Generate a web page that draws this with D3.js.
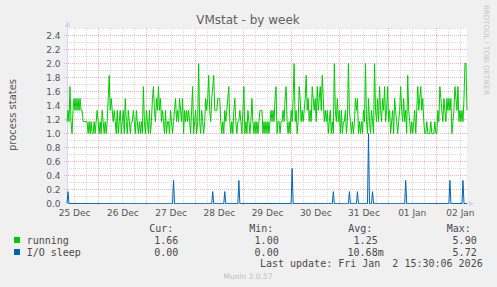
<!DOCTYPE html>
<html>
<head>
<meta charset="utf-8">
<script src="https://cdn.jsdelivr.net/npm/d3@7"></script>
<style>
  body { margin: 0; background: #f0f0f0; }
  svg { display: block; font-family: "DejaVu Sans", sans-serif; }
  .mono { font-family: "DejaVu Sans Mono", monospace; }
</style>
</head>
<body>
<svg id="chart" width="497" height="287"></svg>
<script>
// samples every 30 minutes, first one at 25 Dec 08:30 (UTC)
var startTime = "2025-12-25T08:30:00Z";
var stepMinutes = 30;

// running processes
var running = [
  1.17,1.33,1.17,1.67,1.17,1.0,1.33,1.5,1.33,1.5,
  1.33,1.5,1.33,1.5,1.33,1.33,1.17,1.17,1.17,1.17,
  1.17,1.0,1.17,1.0,1.17,1.0,1.0,1.17,1.0,1.17,
  1.33,1.17,1.0,1.17,1.0,1.33,1.17,1.0,1.17,1.0,
  1.17,1.5,1.83,1.33,1.5,1.33,1.17,1.33,1.17,1.0,
  1.33,1.0,1.17,1.33,1.0,1.17,1.33,1.0,1.5,1.17,
  1.0,1.33,1.17,1.0,1.17,1.17,1.33,1.17,1.0,1.33,
  1.17,1.0,1.17,1.0,1.17,1.0,1.67,1.17,1.0,1.33,
  1.17,1.0,1.33,1.0,1.17,1.5,1.67,1.33,1.17,1.5,
  1.33,1.67,1.33,1.5,1.17,1.33,1.17,1.0,1.33,1.0,
  1.17,1.17,1.0,1.33,1.17,1.0,1.17,1.33,1.5,1.17,
  1.33,1.17,1.5,1.33,1.17,1.5,1.0,1.33,1.17,1.33,
  1.17,1.33,1.17,1.0,1.33,1.67,1.0,1.17,1.33,1.0,
  1.17,2.0,1.17,1.0,1.33,1.17,1.0,1.17,1.5,1.33,
  1.5,1.83,1.33,1.17,1.5,1.67,1.83,1.33,1.33,1.33,
  1.5,1.5,1.5,1.17,1.0,1.17,1.0,1.33,1.17,1.33,
  1.5,1.67,1.17,1.0,1.17,1.0,1.33,1.5,1.17,1.0,
  1.17,1.17,1.33,1.17,1.0,1.33,1.67,1.0,1.17,1.0,
  1.33,1.17,1.0,1.17,1.5,1.17,1.0,1.17,1.0,1.17,
  1.0,1.17,1.33,1.33,1.33,1.0,1.17,1.0,1.17,1.0,
  1.17,1.0,1.17,1.33,1.17,1.33,1.17,1.5,1.67,1.0,
  1.17,1.17,1.0,1.17,1.17,1.33,1.17,1.5,1.67,1.17,
  1.0,1.17,1.0,1.33,1.17,1.5,2.0,1.17,1.33,1.0,
  1.17,1.67,1.5,1.17,1.33,1.17,1.33,1.5,1.83,1.33,
  1.5,1.17,1.33,1.17,1.67,1.5,1.33,1.5,1.17,1.67,
  1.33,1.5,1.67,1.33,1.83,1.5,1.17,1.33,1.17,1.33,
  1.0,1.17,1.33,1.0,1.17,1.0,2.0,1.33,1.17,1.5,
  1.17,1.33,1.0,1.33,1.0,1.17,1.17,1.33,1.0,1.17,
  2.0,1.33,1.17,1.0,1.17,1.0,1.17,1.5,1.33,1.5,
  1.0,1.17,1.0,1.17,1.0,1.33,1.17,2.0,1.17,1.0,
  1.5,1.17,1.0,1.33,1.17,1.0,2.0,1.33,1.17,1.5,
  1.17,1.67,1.33,1.17,1.5,1.33,1.67,1.17,1.33,1.67,
  1.17,1.33,1.0,1.17,1.33,1.0,1.5,1.33,1.17,1.0,
  1.17,1.33,1.67,1.33,1.17,1.5,1.17,1.33,1.0,1.83,
  1.33,1.17,1.0,1.17,1.0,1.17,1.33,1.0,1.33,1.67,
  1.33,1.5,1.67,1.33,1.5,1.17,1.0,1.0,1.17,1.0,
  1.0,1.0,1.17,1.0,1.0,1.0,1.17,1.0,1.0,1.33,
  1.17,1.67,1.5,1.33,1.17,1.5,1.33,1.17,1.5,1.33,
  1.5,1.33,1.5,1.0,1.17,1.33,1.67,1.5,1.33,1.67,
  1.17,1.33,1.17,1.33,1.17,1.5,2.0,2.0,1.33
];

// I/O sleep is 0 except for these samples
var ioSleepTimes = [
  "2025-12-25T09:00", "2025-12-27T13:30", "2025-12-28T09:00", "2025-12-28T15:00",
  "2025-12-28T22:00", "2025-12-30T00:30", "2025-12-30T21:00", "2025-12-31T05:00",
  "2025-12-31T09:00", "2025-12-31T14:30", "2025-12-31T16:30", "2026-01-01T09:00",
  "2026-01-02T07:00", "2026-01-02T13:30"
];
var ioSleepValues = [0.17, 0.33, 0.17, 0.17, 0.33, 0.5, 0.17, 0.17, 0.17, 1.0, 0.17, 0.33, 0.33, 0.33];

var dayLabels = ["25 Dec", "26 Dec", "27 Dec", "28 Dec", "29 Dec", "30 Dec", "31 Dec", "01 Jan", "02 Jan"];
var labelDates = ["2025-12-25", "2025-12-26", "2025-12-27", "2025-12-28", "2025-12-29",
                  "2025-12-30", "2025-12-31", "2026-01-01", "2026-01-02"];
var yTicks = [0, 0.2, 0.4, 0.6, 0.8, 1.0, 1.2, 1.4, 1.6, 1.8, 2.0, 2.2, 2.4];

var legendNames = ["running", "I/O sleep"];
var legendColors = ["#00cc00", "#0066b3"];
var curValues = ["1.66", "0.00"];
var minValues = ["1.00", "0.00"];
var avgValues = ["1.25", "10.68m"];
var maxValues = ["5.90", "5.72"];

var svg = d3.select("#chart");
var pLeft = 67, pRight = 467, pTop = 28, pBottom = 203;

var t0 = new Date(startTime);
var times = running.map(function (d, i) { return new Date(+t0 + i * stepMinutes * 60000); });
var endTime = times[times.length - 1];

var spikeMap = {};
ioSleepTimes.forEach(function (t, i) { spikeMap[+new Date(t + ":00Z")] = ioSleepValues[i]; });
var ioSleep = times.map(function (t) { return spikeMap[+t] || 0; });

var x = d3.scaleUtc().domain([t0, endTime]).range([pLeft, pRight]);
var y = d3.scaleLinear().domain([0, 2.5]).range([pBottom + 0.5, pTop + 0.5]);

// canvas
svg.append("rect").attr("x", pLeft).attr("y", pTop).attr("width", pRight - pLeft).attr("height", pBottom - pTop + 1).attr("fill", "#fff");

// grid
var minorColor = "#dadada", majorColor = "#eeb4b4";
var grid = svg.append("g").attr("fill", "none").attr("stroke-dasharray", "1,1");
d3.range(1, 26).forEach(function (k) {
  if (k % 2 == 0) return;
  var v = k / 10;
  grid.append("line").attr("x1", pLeft).attr("x2", pRight).attr("y1", y(v)).attr("y2", y(v)).attr("stroke", minorColor);
});
d3.utcHour.every(6).range(t0, endTime).forEach(function (t) {
  if (t.getUTCHours() == 0) return;
  var px = Math.round(x(t)) + 0.5;
  grid.append("line").attr("x1", px).attr("x2", px).attr("y1", pTop).attr("y2", pBottom).attr("stroke", minorColor);
});
d3.range(2, 26, 2).forEach(function (k) {
  var v = k / 10;
  grid.append("line").attr("x1", pLeft - 3).attr("x2", pRight).attr("y1", y(v)).attr("y2", y(v)).attr("stroke", majorColor);
});
d3.utcDay.range(t0, endTime).forEach(function (t) {
  var px = Math.round(x(t)) + 0.5;
  grid.append("line").attr("x1", px).attr("x2", px).attr("y1", pTop).attr("y2", pBottom + 2).attr("stroke", majorColor);
});

// axes
var yAxis = svg.append("g").attr("transform", "translate(" + (pLeft + 0.5) + ",0)")
  .call(d3.axisLeft(y).tickValues(yTicks).tickFormat(d3.format(".1f")).tickSize(0).tickPadding(7));
yAxis.select(".domain").remove();
yAxis.selectAll("text").attr("font-size", 9).attr("fill", "#555").attr("font-family", "DejaVu Sans");

var xAxis = svg.append("g").attr("transform", "translate(0," + (pBottom + 0.5) + ")")
  .call(d3.axisBottom(x)
    .tickValues(labelDates.map(function (d) { return new Date(d + "T12:00:00Z"); }))
    .tickFormat(function (d, i) { return dayLabels[i]; })
    .tickSize(0).tickPadding(6));
xAxis.select(".domain").remove();
xAxis.selectAll("text").attr("font-size", 9).attr("fill", "#555").attr("font-family", "DejaVu Sans");

var axisColor = "#cfd6f8";
svg.append("line").attr("x1", pLeft + 0.5).attr("x2", pLeft + 0.5).attr("y1", pBottom + 0.5).attr("y2", 24).attr("stroke", axisColor);
svg.append("path").attr("d", "M64.5,27L70.5,27L67.5,21Z").attr("fill", axisColor);
svg.append("line").attr("x1", pLeft).attr("x2", 470).attr("y1", pBottom + 0.5).attr("y2", pBottom + 0.5).attr("stroke", axisColor);
svg.append("path").attr("d", "M469,200.5L469,206.5L474,203.5Z").attr("fill", axisColor);

// series
var line = d3.line().x(function (d, i) { return x(times[i]); }).y(function (d) { return y(d); });
svg.append("path").datum(running).attr("d", line).attr("fill", "none").attr("stroke", legendColors[0]).attr("stroke-width", 1);
svg.append("path").datum(ioSleep).attr("d", line).attr("fill", "none").attr("stroke", legendColors[1]).attr("stroke-width", 1);

// titles
svg.append("text").attr("x", 248).attr("y", 24).attr("text-anchor", "middle")
  .attr("font-size", 12).attr("fill", "#606060").text("VMstat - by week");
svg.append("text").attr("transform", "translate(16,115) rotate(-90)").attr("text-anchor", "middle")
  .attr("font-size", 10).attr("fill", "#555").text("process states");
svg.append("text").attr("transform", "translate(484,5) rotate(90)").attr("text-anchor", "start")
  .attr("font-size", 7).attr("fill", "#c4c4c4").text("RRDTOOL / TOBI OETIKER");

// legend
var lg = svg.append("g").attr("class", "mono").attr("font-size", 10).attr("fill", "#4a4a4a");
var headX = [149.3, 249.3, 348.3, 446.7];
["Cur:", "Min:", "Avg:", "Max:"].forEach(function (h, i) {
  lg.append("text").attr("x", headX[i]).attr("y", 231.5).text(h);
});
var colEnd = [178.3, 278.7, 377.7, 476.7];
legendNames.forEach(function (name, r) {
  var by = 243.5 + r * 12;
  lg.append("rect").attr("x", 14).attr("y", by - 6.5).attr("width", 6).attr("height", 6).attr("fill", legendColors[r]);
  lg.append("text").attr("x", 26.7).attr("y", by).text(name);
  [curValues, minValues, avgValues, maxValues].forEach(function (vals, c) {
    var s = vals[r];
    var shift = /[0-9]$/.test(s) ? 0 : 6;
    lg.append("text").attr("x", colEnd[c] + shift).attr("y", by).attr("text-anchor", "end").text(s);
  });
});
lg.append("text").attr("x", 482.7).attr("y", 267.3).attr("text-anchor", "end")
  .style("white-space", "pre").text("Last update: Fri Jan  2 15:30:06 2026");

svg.append("text").attr("x", 248).attr("y", 279).attr("text-anchor", "middle")
  .attr("font-size", 7.5).attr("fill", "#bdbdbd").text("Munin 2.0.57");
</script>
</body>
</html>
